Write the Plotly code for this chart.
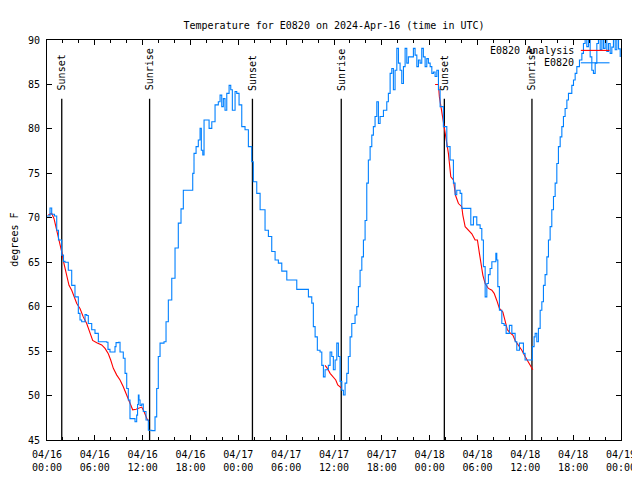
import plotly.graph_objects as go

# Hours since 2024-04-16 00:00 UTC
obs_hours = [0.0, 0.38, 0.59, 0.94, 1.22, 1.44, 1.84, 2.07, 2.26, 2.67, 3.10, 3.51, 3.93, 4.14, 4.35,
             4.77, 4.98, 5.18, 5.61, 6.02, 6.44, 7.49, 7.65, 7.90, 8.32, 8.53, 8.66, 8.97, 9.16, 9.57,
             9.79, 10.0, 10.2, 10.41, 11.04, 11.25, 11.36, 11.46, 11.54, 11.67, 11.88, 12.08, 12.42,
             12.71, 13.14, 13.55, 13.76, 13.96, 14.18, 14.68, 14.93, 15.22, 15.65, 16.06, 16.47, 16.81,
             17.10, 17.94, 18.28, 18.44, 18.70, 18.98, 19.20, 19.36, 19.54, 19.70, 20.04, 20.33, 20.67,
             21.08, 21.49, 21.71, 21.92, 22.12, 22.33, 22.55, 22.84, 23.05, 23.25, 23.59, 23.80, 24.09,
             24.43, 24.84, 25.26, 25.68, 25.88, 26.31, 26.73, 27.35, 27.77, 28.19, 28.61, 29.02, 29.45,
             30.08, 31.12, 31.33, 32.58, 32.79, 33.21, 33.41, 33.63, 33.91, 34.25, 34.47, 34.67, 34.88,
             35.29, 35.51, 35.72, 35.92, 36.14, 36.35, 36.55, 36.76, 36.98, 37.18, 37.39, 37.60, 37.80,
             38.02, 38.23, 38.64, 38.86, 39.06, 39.27, 39.49, 39.69, 39.90, 40.11, 40.31, 40.53, 40.74,
             40.94, 41.15, 41.37, 41.57, 41.78, 42.20, 42.62, 42.82, 43.04, 43.25, 43.45, 43.66, 43.88,
             44.08, 44.29, 44.50, 44.71, 44.92, 45.13, 45.33, 45.76, 45.96, 46.17, 46.39, 46.59, 46.80,
             47.01, 47.21, 47.43, 47.64, 47.84, 48.06, 48.27, 48.47, 48.68, 48.90, 49.10, 49.31, 49.72,
             50.15, 50.56, 50.98, 51.19, 51.40, 51.82, 52.03, 52.98, 53.16, 53.49, 53.91, 54.33, 54.54,
             54.74, 54.96, 55.17, 55.37, 55.58, 55.80, 56.05, 56.30, 56.42, 56.55, 56.75, 57.05, 57.34,
             57.59, 57.88, 58.00, 58.31, 58.51, 58.72, 58.93, 59.26, 59.56, 59.76, 59.97, 60.81, 60.88,
             61.10, 61.23, 61.44, 61.64, 61.86, 62.07, 62.27, 62.48, 62.70, 62.90, 63.11, 63.32, 63.53,
             63.74, 63.95, 64.15, 64.37, 64.58, 64.78, 64.99, 65.21, 65.41, 65.83, 66.04, 66.25, 66.46,
             66.79, 67.09, 67.29, 67.50, 67.71, 67.92, 68.13, 68.34, 68.54, 68.76, 68.97, 69.17, 69.39,
             69.60, 69.80, 70.01, 70.22, 70.43, 70.64, 70.85, 71.05, 71.27, 71.48, 71.69, 71.90]
obs_temp = [70.2, 71.1, 70.4, 70.2, 68.6, 67.5, 65.8, 65.1, 65.0, 64.1, 62.4, 61.1, 59.25, 58.5, 58.3,
            59.1, 59.0, 58.1, 57.4, 57.0, 56.06, 56.0, 55.2, 54.9, 54.9, 55.5, 55.95, 56.0, 54.9, 54.2,
            52.5, 50.8, 49.5, 47.4, 47.06, 47.8, 49.0, 50.06, 49.5, 48.9, 49.05, 48.2, 47.25,
            46.1, 46.05, 47.6, 50.8, 54.4, 55.9, 56.06, 58.3, 60.75, 63.2, 66.6, 69.4, 71.0,
            73.1, 73.1, 75.0, 77.25, 78.0, 78.75, 80.06, 77.6, 77.06, 81.0, 81.0, 80.06, 80.8,
            82.7, 83.06, 83.8, 82.5, 83.4, 82.1, 84.0, 84.9, 84.4, 82.1, 84.2, 84.0, 82.7,
            80.25, 79.9, 78.0, 76.3, 74.06, 72.75, 70.9, 68.6, 67.9, 66.2, 65.25, 64.9, 64.0,
            63.0, 63.0, 61.95, 61.95, 61.1, 60.4, 57.75, 56.6, 55.1, 54.9, 53.4, 52.1, 52.9,
            53.4, 54.9, 54.4, 52.9, 54.0, 55.9, 54.4, 51.6, 50.6, 50.06, 51.4, 52.5, 54.4,
            56.6, 58.1, 59.06, 60.0, 62.25, 64.1, 65.6, 67.5, 69.7, 73.9, 76.5, 78.0, 79.3,
            80.25, 81.4, 83.06, 80.6, 81.4, 82.1, 83.06, 84.0, 86.25, 86.8, 84.4, 86.6, 89.06,
            87.4, 86.6, 85.1, 87.0, 89.06, 87.4, 88.1, 88.1, 89.06, 88.3, 87.0, 87.75, 87.4,
            89.06, 88.1, 87.0, 87.9, 87.4, 87.0, 86.25, 86.4, 85.9, 86.6, 84.4, 82.5, 80.25,
            78.0, 76.5, 73.9, 72.6, 73.1, 72.75, 71.06, 71.06, 69.2, 70.1, 69.2, 68.8, 67.5,
            64.5, 61.1, 62.6, 63.6, 64.3, 65.06, 65.06, 66.0, 65.25, 62.25, 59.6, 58.1, 57.9,
            57.0, 57.0, 57.9, 57.0, 57.0, 56.06, 55.1, 55.9, 55.9, 54.75, 54.0, 54.0, 55.5,
            56.6, 57.0, 56.06, 57.56, 59.6, 60.56, 62.4, 63.6, 65.6, 67.5, 69.0, 70.9, 72.4,
            73.9, 76.1, 78.0, 79.1, 80.25, 81.4, 82.3, 83.25, 84.0, 84.9, 85.5, 86.25, 87.0,
            87.75, 88.5, 89.6, 90.5, 89.25, 90.5, 88.1, 86.6, 86.25, 87.4, 89.6, 90.3, 88.9,
            90.3, 89.06, 90.3, 88.7, 89.6, 88.5, 89.2, 90.3, 88.9, 90.3, 89.0, 88.1]

ana_hours = [0.16, 0.59, 0.88, 1.13, 1.42, 1.84, 2.13, 2.47, 2.76, 3.10, 3.39, 3.73, 4.14, 4.55, 4.98,
             5.40, 5.73, 6.24, 6.86, 7.28, 7.69, 7.99, 8.32, 8.75, 9.16, 9.57, 10.08, 10.41, 10.75,
             11.17, 11.58, 11.88, 12.17, 12.51, 12.80, None,
             34.88, 35.17, 35.51, 35.92, 36.22, 36.47, 36.76, 36.98, None,
             48.68, 49.10, 49.22, 49.52, 49.72, 50.10, 50.35, 50.65, 50.98, 51.25, 51.61, 52.03, 52.16,
             52.45, 52.86, 53.29, 53.70, 53.99, 54.24, 54.42, 54.67, 54.96, 55.37, 55.80, 56.09, 56.42,
             56.75, 57.18, 57.47, 57.75, 58.09, 58.43, 58.72, 59.13, 59.56, 59.97, 60.39, 60.73, 60.94]
ana_temp = [70.3, 70.5, 69.9, 69.0, 67.7, 66.2, 64.85, 63.35, 62.4, 61.85, 61.1, 60.35, 59.8, 58.85, 58.1,
            57.0, 56.2, 55.95, 55.7, 55.3, 54.7, 54.0, 53.06, 52.3, 51.75, 51.0, 49.9, 49.1, 48.4,
            48.45, 48.55, 48.7, 48.2, 47.45, 47.06, None,
            53.4, 53.06, 52.5, 52.1, 51.75, 51.2, 50.9, 50.8, None,
            85.0, 85.0, 83.6, 82.0, 80.6, 79.0, 77.25, 74.6, 74.25, 72.5, 71.6, 71.25, 70.3,
            69.0, 68.6, 68.2, 67.5, 67.5, 66.0, 64.85, 63.55, 62.6, 62.05, 61.85, 61.5, 60.7,
            59.8, 59.4, 58.3, 57.4, 57.06, 56.8, 56.2, 55.7, 55.1, 54.4, 53.8, 53.2, 52.9]

sunset_hours = [1.85, 25.77, 49.84]
sunrise_hours = [12.87, 36.91, 60.83]
sun_line_top = 83.4

tick_hours = [0, 6, 12, 18, 24, 30, 36, 42, 48, 54, 60, 66, 72]
tick_labels = ["04/16<br>00:00", "04/16<br>06:00", "04/16<br>12:00", "04/16<br>18:00",
               "04/17<br>00:00", "04/17<br>06:00", "04/17<br>12:00", "04/17<br>18:00",
               "04/18<br>00:00", "04/18<br>06:00", "04/18<br>12:00", "04/18<br>18:00",
               "04/19<br>00:00"]

FONT = "DejaVu Sans Mono"
BLUE = "#0080ff"
RED = "#ff0000"

# the page places the figure 8 px from the window's top-left corner
W, H = 632, 464

fig = go.Figure()
fig.add_trace(go.Scatter(x=ana_hours, y=ana_temp, mode="lines", name="E0820 Analysis",
                         line=dict(color=RED, width=1.1), connectgaps=False))
fig.add_trace(go.Scatter(x=obs_hours, y=obs_temp, mode="lines", name="E0820",
                         line=dict(color=BLUE, width=1.1, shape="hv")))

for lbl, hrs in (("Sunset", sunset_hours), ("Sunrise", sunrise_hours)):
    for h in hrs:
        fig.add_shape(type="line", xref="x", yref="y", x0=h, x1=h, y0=45, y1=sun_line_top,
                      line=dict(color="black", width=1.3), layer="below")
        fig.add_annotation(x=h, y=sun_line_top, xref="x", yref="y", text=lbl, showarrow=False,
                           textangle=-90, xanchor="center", yanchor="bottom", yshift=6,
                           font=dict(family=FONT, size=10, color="black"))

# legend (gnuplot style: text then sample line)
leg = [("E0820 Analysis", RED, 0.974), ("E0820", BLUE, 0.943)]
for txt, col, yy in leg:
    fig.add_annotation(x=0.922, y=yy, xref="paper", yref="paper", text=txt, showarrow=False,
                       xanchor="right", yanchor="middle", font=dict(family=FONT, size=10, color="black"))
    fig.add_shape(type="line", xref="paper", yref="paper", x0=0.930, x1=0.980, y0=yy, y1=yy,
                  line=dict(color=col, width=1.1))

fig.add_annotation(x=-0.058, y=0.5, xref="paper", yref="paper", text="degrees F", showarrow=False,
                   textangle=-90, xanchor="center", yanchor="middle",
                   font=dict(family=FONT, size=10, color="black"))

fig.update_layout(
    width=W, height=H,
    margin=dict(l=38.5, r=19, t=31.5, b=32, pad=0),
    paper_bgcolor="white", plot_bgcolor="white",
    showlegend=False,
    font=dict(family=FONT, size=10, color="black"),
    title=dict(text="Temperature for E0820 on 2024-Apr-16 (time in UTC)", x=0.5, xref="paper",
               xanchor="center", y=1 - 17 / H, yref="container", yanchor="middle",
               font=dict(family=FONT, size=10, color="black")),
    xaxis=dict(range=[0, 72], tickmode="array", tickvals=tick_hours, ticktext=tick_labels,
               ticks="inside", ticklen=5, tickcolor="black", showline=True, linecolor="black",
               linewidth=1, mirror="allticks", showgrid=False, zeroline=False,
               ticklabelstandoff=5, automargin=False, ticklabeloverflow="allow",
               minor=dict(tickmode="linear", tick0=0, dtick=2, ticks="inside", ticklen=3,
                          tickcolor="black", showgrid=False)),
    yaxis=dict(range=[45, 90], tickmode="linear", tick0=45, dtick=5,
               ticks="inside", ticklen=5, tickcolor="black", showline=True, linecolor="black",
               linewidth=1, mirror="allticks", showgrid=False, zeroline=False,
               ticklabelstandoff=4, automargin=False),
)

fig.write_html("out.html")
